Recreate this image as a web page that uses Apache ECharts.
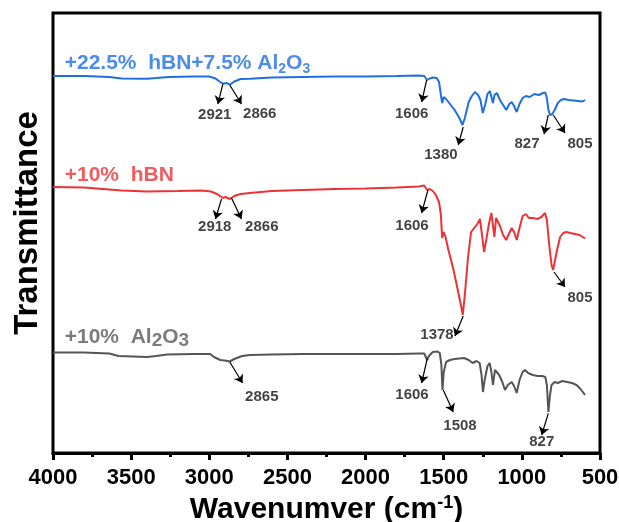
<!DOCTYPE html>
<html>
<head>
<meta charset="utf-8">
<script src="https://cdn.jsdelivr.net/npm/echarts@6/dist/echarts.min.js"></script>
<style>html,body{margin:0;padding:0;background:#fff}#c{width:619px;height:522px}</style>
</head>
<body>
<div id="c"></div>
<script>
// x ticks
const xTicks = [4000, 3500, 3000, 2500, 2000, 1500, 1000, 500];

// +22.5% hBN + 7.5% Al2O3 (blue), transmittance in a.u. (offset)
const wnBlue = [4000,3800,3640,3560,3400,3340,3260,3100,3000,2960,2935,2913,2890,2869,2840,2800,2740,2600,2400,2200,2000,1800,1660,1625,1606,1590,1570,1545,1530,1518,1510,1500,1485,1460,1430,1400,1380,1365,1340,1320,1300,1280,1265,1250,1235,1220,1205,1195,1185,1175,1160,1140,1120,1100,1080,1065,1050,1033,1015,995,975,950,920,890,865,850,840,830,820,805,790,770,750,730,700,670,640,620,605,595];
const tBlue  = [377,377,376,374.5,374.3,375,376,376.5,376.5,374.5,371.5,369.3,370,368.3,371.5,374,374.3,375.5,376,376.5,376.5,377,377.5,377,373,374.5,375.5,375,371,358,350,356,354,349,343,335,328,335,351,357,361,358,353,340,348,359,362,356,350,358,360,353,348,343,349,351,347,341,349,355,357,356,359,358,360,360.5,355,343,338,339,343,350,353,354,353,352.5,352,351.5,352,353];

// +10% hBN (red)
const wnRed = [4000,3800,3680,3560,3400,3200,3050,2990,2950,2914,2895,2869,2840,2800,2740,2600,2400,2200,2000,1800,1660,1625,1606,1590,1570,1550,1530,1518,1510,1500,1490,1470,1440,1410,1390,1378,1365,1345,1325,1305,1285,1268,1255,1242,1228,1212,1195,1185,1176,1165,1155,1140,1120,1100,1080,1065,1050,1033,1015,995,975,955,930,900,875,852,840,825,810,800,790,775,755,735,715,690,660,630,610,596];
const tRed  = [266,265.5,264,262.5,261.5,262,262.5,261.5,259,255,256,254,257,259,260,262,263,264,264.5,265.5,266.5,267.5,263,264,262,258,251,238,215,221,217,203,185,163,148,138,158,195,221,225,229,234,218,201,213,228,240,228,216,235,233,227,218,213,220,225,221,213,225,237,239,235,235,234,236,240,233,208,188,183,191,203,216,220,221,220,219,218,216,214.5];

// +10% Al2O3 (grey)
const wnGrey = [4000,3800,3640,3580,3400,3340,3270,3100,2995,2970,2930,2900,2869,2840,2790,2740,2600,2400,2200,2000,1800,1660,1625,1606,1595,1570,1540,1525,1515,1508,1500,1485,1460,1430,1400,1370,1340,1315,1290,1270,1258,1249,1238,1220,1206,1195,1185,1172,1161,1145,1125,1108,1090,1065,1050,1033,1015,995,980,960,930,900,870,850,840,830,820,810,790,770,740,710,680,650,625,605,596];
const tGrey  = [100.5,100.5,99.5,97,96,97,98.5,99,99,96,93,92.5,91.5,94,97,98,98.5,99,99,99,99,99.5,99.5,93,97,101,101.5,100,88,63,81,91,93,94,94.5,95,93,90,92,90,78,61,73,87,90,81,68,83,85,78,71,63,68,71,67,60,73,81,83,80,78,77,77,76,68,41,58,68,71,70,72,71,70,68,64,60,58];

// peak annotations: label, text position, arrow start (on curve), arrow end
const annText  = ['2921','2866','1606','1380','827','805','2918','2866','1606','1378','805','2865','1606','1508','827'];
const annTextX = [2965,2677,1705,1518,967,628,2965,2664,1703,1543,628,2664,1703,1396,873];
const annTextY = [338,339,339,298,309,309,226,226,227.5,118,155.5,56,58.5,27,11];
const arrFromX = [2913,2869,1609,1375,831,799,2922,2858,1601,1375,794,2869,1605,1503,831];
const arrFromY = [369,368,373,326,338,338,254,255,263,137,181,91,94.7,63,39.7];
const arrToX   = [2945,2794,1641,1407,858,724,2960,2794,1641,1428,724,2787,1641,1439,873];
const arrToY   = [349,349,351,308,319,320,234,234,240,117,166,70,70,41,18];

// series name labels
const nameX = [3925, 3925, 3925];
const nameY = [390, 278, 116];

const BLUE = '#1f6fe3', RED = '#ec3236', GREY = '#555555';
const zip = (a, b) => a.map((v, i) => [v, b[i]]);

const arrows = annText.map((t, i) => [
  { coord: [arrFromX[i], arrFromY[i]] },
  { coord: [arrToX[i], arrToY[i]] }
]);

const chart = echarts.init(document.getElementById('c'), null, { renderer: 'canvas' });
const FF = '"Liberation Sans", Arial, sans-serif';

chart.setOption({
  animation: false,
  backgroundColor: '#fff',
  grid: { left: 53, right: 19, top: 13, bottom: 69, show: true, borderColor: '#000', borderWidth: 3, containLabel: false, outerBoundsMode: 'none' },
  xAxis: {
    type: 'value', inverse: true, min: 500, max: 4000, interval: 500,
    axisLine: { show: true, lineStyle: { color: '#000', width: 3 } },
    axisTick: { show: true, inside: false, length: 7, lineStyle: { color: '#000', width: 3 } },
    minorTick: { show: true, splitNumber: 2, length: 4, lineStyle: { color: '#000', width: 3 } },
    splitLine: { show: false },
    axisLabel: { color: '#000', fontSize: 22, fontWeight: 'bold', fontFamily: FF, margin: 14, formatter: v => String(v) },
    name: '{t|Wavenumver (cm}{p|-1}{t|)}',
    nameLocation: 'middle', nameGap: 36,
    nameTextStyle: {
      rich: {
        t: { fontSize: 30, fontWeight: 'bold', fontFamily: FF, color: '#000', lineHeight: 32 },
        p: { fontSize: 18, fontWeight: 'bold', fontFamily: FF, color: '#000', lineHeight: 18, padding: [0, 0, 14, 0] }
      }
    }
  },
  yAxis: {
    type: 'value', min: 0, max: 440,
    axisLine: { show: false }, axisTick: { show: false }, axisLabel: { show: false }, splitLine: { show: false }
  },
  graphic: [{
    type: 'text', x: 28, y: 223, rotation: Math.PI / 2,
    style: { text: 'Transmittance', fontSize: 33, fontWeight: 'bold', fontFamily: FF, fill: '#000', align: 'center', verticalAlign: 'middle' }
  }],
  series: [
    { type: 'line', data: zip(wnBlue, tBlue), showSymbol: false, lineStyle: { color: BLUE, width: 2 }, itemStyle: { color: BLUE }, silent: true },
    { type: 'line', data: zip(wnRed, tRed), showSymbol: false, lineStyle: { color: RED, width: 2 }, itemStyle: { color: RED }, silent: true },
    { type: 'line', data: zip(wnGrey, tGrey), showSymbol: false, lineStyle: { color: GREY, width: 2 }, itemStyle: { color: GREY }, silent: true,
      markLine: {
        silent: true, symbol: ['none', 'arrow'], symbolSize: 8,
        label: { show: false },
        lineStyle: { color: '#000', width: 1.2, type: 'solid' },
        emphasis: { disabled: true },
        data: arrows
      }
    },
    {
      type: 'scatter', silent: true, symbolSize: 0,
      data: annText.map((t, i) => ({ value: [annTextX[i], annTextY[i]], name: t })),
      label: { show: true, position: 'inside', formatter: p => p.name, color: '#111', fontSize: 15, fontWeight: 'bold', fontFamily: FF }
    },
    {
      type: 'scatter', silent: true, symbolSize: 0,
      data: [
        { value: [nameX[0], nameY[0]], label: { formatter: '{a|+22.5%  hBN+7.5% Al}{s|2}{a|O}{s|3}' } },
        { value: [nameX[1], nameY[1]], label: { formatter: '{r|+10%  hBN}' } },
        { value: [nameX[2], nameY[2]], label: { formatter: '{g|+10%  Al}{g2|2}{g|O}{g2|3}' } }
      ],
      label: {
        show: true, position: 'right', distance: 0,
        rich: {
          a: { fontSize: 21, fontWeight: 'bold', fontFamily: FF, color: BLUE, lineHeight: 26 },
          s: { fontSize: 14, fontWeight: 'bold', fontFamily: FF, color: BLUE, lineHeight: 14, padding: [12, 0, 0, 0] },
          r: { fontSize: 21, fontWeight: 'bold', fontFamily: FF, color: RED, lineHeight: 26 },
          g: { fontSize: 21, fontWeight: 'bold', fontFamily: FF, color: '#5a5a5a', lineHeight: 26 },
          g2: { fontSize: 19, fontWeight: 'bold', fontFamily: FF, color: '#5a5a5a', lineHeight: 19, padding: [8, 0, 0, 0] }
        }
      }
    }
  ]
});
</script>
</body>
</html>
